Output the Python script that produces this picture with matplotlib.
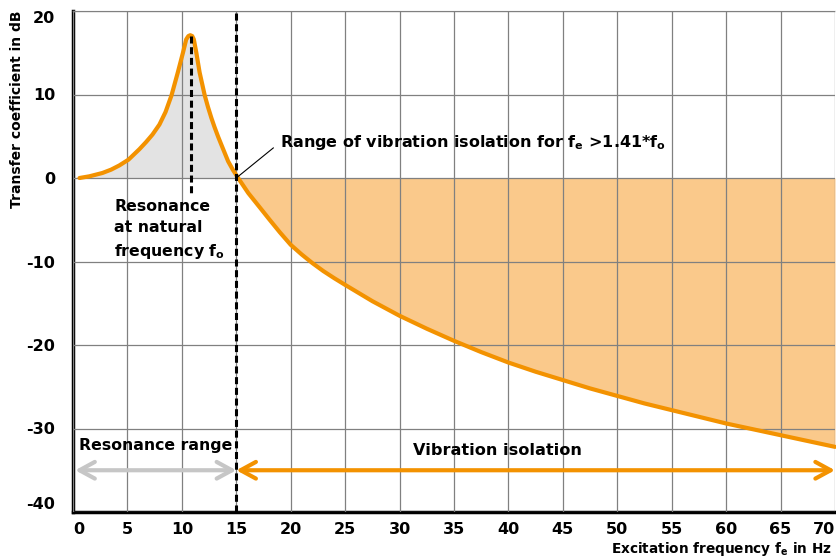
import matplotlib
matplotlib.use('Agg')
import matplotlib.pyplot as plt
import numpy as np

# values
freq = [0.6, 1.5, 2.7, 3.5, 4.25, 5.1, 6.1, 6.71, 7.3, 7.94, 8.5, 9.05, 9.63,
        10.1, 10.4, 10.6, 10.77, 10.95, 11.1, 11.33, 11.63, 12.1, 12.4,
        12.71, 13.0, 13.33, 13.64, 14.25, 14.7, 15.17, 16.1, 17.33, 18, 19,
        20, 21, 22, 23, 24, 25, 27.5, 30, 32.5, 35, 37.5, 40, 42.5, 45, 47.5,
        50, 52.5, 55, 57.5, 60, 62.5, 65, 67.5, 70]
gain_db = [0, 0.2, 0.6, 1.0, 1.5, 2.2, 3.45, 4.3, 5.2, 6.4, 7.9, 9.9, 12.65,
           15.0, 16.6, 17.0, 17.1, 17.0, 16.6, 15.0, 12.65, 9.9, 8.5, 7.2,
           6.1, 4.95, 3.95, 2.0, 0.95, 0, -1.8, -3.8, -4.9, -6.5, -8.0,
           -9.15, -10.2, -11.15, -12.0, -12.8, -14.75, -16.5, -18.05, -19.5,
           -20.85, -22.1, -23.2, -24.2, -25.2, -26.1, -27.0, -27.8, -28.6,
           -29.4, -30.1, -30.8, -31.5, -32.2]

peak_freq = 10.8
peak_db = 17.0
isolation_start = 15.0
xticks = list(range(0, 75, 5))
yticks = [-40, -30, -20, -10, 0, 10, 20]

orange = '#f39200'
light_orange = '#fac98b'
light_gray = '#e3e3e3'
arrow_gray = '#c6c6c6'

plt.rcParams['font.family'] = 'DejaVu Sans'
plt.rcParams['font.weight'] = 'bold'
plt.rcParams['axes.unicode_minus'] = False
plt.rcParams['mathtext.fontset'] = 'custom'
plt.rcParams['mathtext.rm'] = 'DejaVu Sans:bold'
plt.rcParams['mathtext.default'] = 'rm'

fig = plt.figure(figsize=(8.36, 5.6), dpi=100)
ax = fig.add_axes([73 / 836, 48 / 560, 762 / 836, 501 / 560])

f = np.array(freq)
g = np.array(gain_db)

# shaded areas
ax.fill_between(f, g, 0, where=f <= 15.17, color=light_gray, lw=0, zorder=1)
ax.fill_between(f, g, 0, where=f >= 15.17, color=light_orange, lw=0, zorder=1)

ax.set_xlim(0, 70)
ax.set_ylim(-40, 20)
ax.set_xticks(xticks)
ax.set_yticks(yticks)
ax.grid(True, color='#808080', lw=0.9, zorder=2)
ax.set_axisbelow(False)

ax.plot(f, g, color=orange, lw=3, solid_joinstyle='round',
        solid_capstyle='round', zorder=5, clip_on=False)

# dashed markers
ax.plot([peak_freq, peak_freq], [peak_db, -1.8], color='black', lw=2.2,
        ls=(0, (2.3, 1.2)), zorder=6)
ax.axvline(isolation_start, color='black', lw=2.2, ls=(0, (2.3, 1.2)), zorder=6)

# spines
for side in ['left', 'bottom']:
    ax.spines[side].set_linewidth(2.5)
    ax.spines[side].set_color('black')
ax.spines['top'].set_color('#d5d5d5')
ax.spines['top'].set_linewidth(1.0)
ax.spines['right'].set_visible(False)

ax.tick_params(length=0, labelsize=11.5)
ax.tick_params(axis='y', pad=13)
ax.tick_params(axis='x', pad=7)
for lbl in ax.get_yticklabels() + ax.get_xticklabels():
    lbl.set_fontweight('bold')
ax.get_xticklabels()[-1].set_horizontalalignment('right')
ax.get_xticklabels()[0].set_horizontalalignment('left')
ax.get_yticklabels()[-1].set_verticalalignment('top')
ax.get_yticklabels()[0].set_verticalalignment('bottom')

# range arrows
ax.annotate('', xy=(0.2, -35), xytext=(isolation_start, -35),
            arrowprops=dict(arrowstyle='<->,head_length=1.1,head_width=0.6',
                            color=arrow_gray, lw=3, shrinkA=0, shrinkB=0,
                            mutation_scale=10), zorder=6)
ax.annotate('', xy=(isolation_start, -35), xytext=(70, -35),
            arrowprops=dict(arrowstyle='<->,head_length=1.1,head_width=0.6',
                            color=orange, lw=3, shrinkA=0, shrinkB=0,
                            mutation_scale=10), zorder=6, annotation_clip=False)

# texts
ax.text(0.55, -32.0, 'Resonance range', fontsize=11.3, fontweight='bold',
        ha='left', va='center', zorder=7)
ax.text(39, -32.6, 'Vibration isolation', fontsize=11.6, fontweight='bold',
        ha='center', va='center', zorder=7)
ax.text(3.8, -2.5, 'Resonance\nat natural\nfrequency f$_{o}$', fontsize=11.3,
        fontweight='bold', ha='left', va='top', linespacing=1.5, zorder=7)

ax.plot([isolation_start, 18.4], [0, 3.6], color='black', lw=0.8, zorder=7)
ax.text(19.0, 4.2, 'Range of vibration isolation for f$_{e}$ >1.41*f$_{o}$',
        fontsize=11.5, fontweight='bold', ha='left', va='center', zorder=7)

fig.text(17 / 836, 1 - 10 / 560, 'Transfer coefficient in dB', rotation=90,
         fontsize=10, fontweight='bold', ha='center', va='top')
fig.text(832 / 836, 1 - 549 / 560, 'Excitation frequency f$_{e}$ in Hz',
         fontsize=9.8, fontweight='bold', ha='right', va='center')

fig.savefig('out.png', dpi=100)
